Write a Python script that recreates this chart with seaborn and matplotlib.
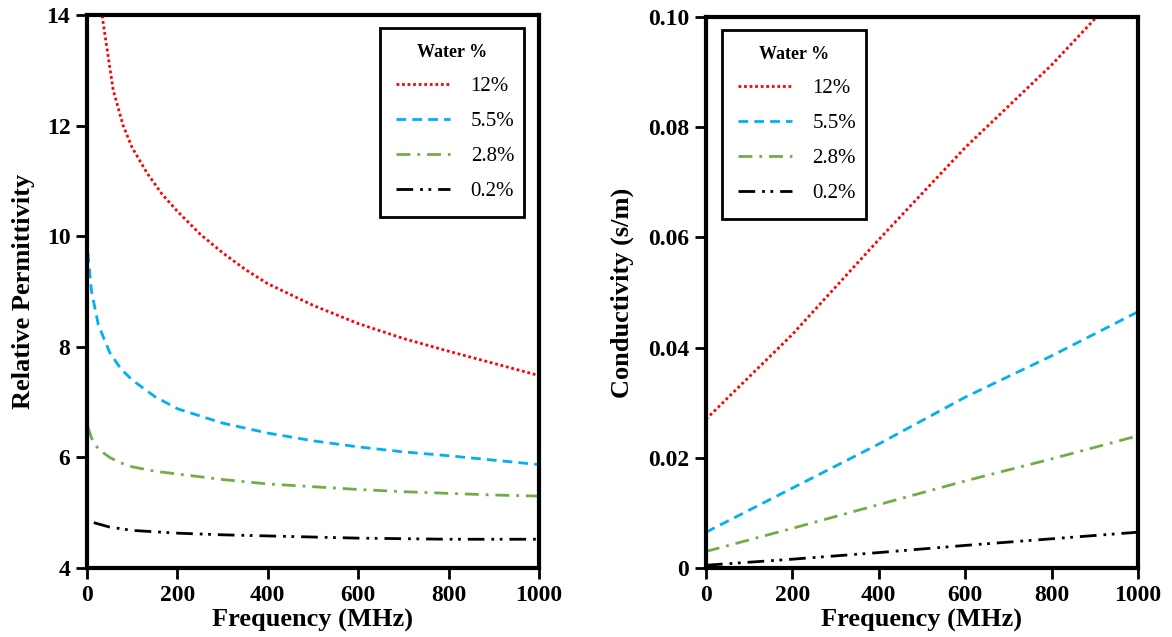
import numpy as np
import pandas as pd
import matplotlib
matplotlib.use("Agg")
import matplotlib.pyplot as plt
import seaborn as sns

sns.set_style("white")
plt.rcParams['font.family'] = ['Liberation Serif', 'DejaVu Serif']
plt.rcParams['text.color'] = 'black'
plt.rcParams['axes.labelcolor'] = 'black'
plt.rcParams['xtick.color'] = 'black'
plt.rcParams['ytick.color'] = 'black'

labels = ["12%", "5.5%", "2.8%", "0.2%"]
colors = ["#ff0000", "#00b0f0", "#70ad47", "#000000"]
dashes = [(1, 1), (3.5, 2.2), (5, 2.5, 1, 2.5), (6, 2.5, 1, 2, 1, 2.5)]

# Relative permittivity
f_red = [20, 35, 58, 80, 100, 133, 166, 200, 250, 300, 350, 400, 500, 600, 700, 800, 900, 1000]
e_red = [15.0, 13.9, 12.64, 12.0, 11.6, 11.14, 10.76, 10.45, 10.04, 9.7, 9.4, 9.14, 8.75, 8.42, 8.15, 7.92, 7.7, 7.48]
f_blue = [2, 10, 25, 50, 75, 100, 150, 200, 300, 400, 500, 600, 700, 800, 900, 1000]
e_blue = [9.7, 9.0, 8.4, 7.9, 7.6, 7.4, 7.1, 6.88, 6.62, 6.44, 6.3, 6.19, 6.1, 6.03, 5.95, 5.87]
f_green = [2, 10, 25, 50, 75, 100, 150, 200, 300, 400, 500, 600, 700, 800, 900, 1000]
e_green = [6.55, 6.35, 6.15, 6.0, 5.9, 5.83, 5.75, 5.7, 5.6, 5.52, 5.47, 5.42, 5.38, 5.35, 5.32, 5.3]
f_black = [15, 50, 100, 200, 300, 400, 500, 600, 700, 800, 900, 1000]
e_black = [4.82, 4.74, 4.68, 4.63, 4.6, 4.58, 4.56, 4.54, 4.53, 4.52, 4.52, 4.52]

# Conductivity
f_cond = [0, 200, 400, 600, 800, 1000]
s_red = [0.027, 0.0424, 0.0596, 0.0763, 0.0913, 0.108]
s_blue = [0.0065, 0.0145, 0.0225, 0.031, 0.0385, 0.0465]
s_green = [0.003, 0.0072, 0.0115, 0.0158, 0.0198, 0.024]
s_black = [0.0005, 0.0016, 0.0028, 0.0041, 0.0053, 0.0065]

perm = [(f_red, e_red), (f_blue, e_blue), (f_green, e_green), (f_black, e_black)]
cond = [(f_cond, s_red), (f_cond, s_blue), (f_cond, s_green), (f_cond, s_black)]

fig = plt.figure(figsize=(11.72, 6.37), dpi=100)
W, H = 1172, 637
ax1 = fig.add_axes([87 / W, (H - 568) / H, 452 / W, 553 / H])
ax2 = fig.add_axes([706 / W, (H - 568) / H, 432 / W, 551 / H])

for ax, data in ((ax1, perm), (ax2, cond)):
    for (x, y), lab, c, d in zip(data, labels, colors, dashes):
        sns.lineplot(x=x, y=y, ax=ax, color=c, label=lab, linewidth=2)
        ax.lines[-1].set_dashes(d)
    ax.set_xlim(0, 1000)
    ax.set_xticks([0, 200, 400, 600, 800, 1000])
    ax.set_xlabel("Frequency (MHz)", fontsize=19, fontweight='bold', labelpad=2)
    for s in ax.spines.values():
        s.set_linewidth(3)
        s.set_color('black')
    ax.tick_params(axis='both', direction='out', length=8, width=2, labelsize=17, pad=4,
                   bottom=True, left=True)

ax1.set_ylim(4, 14)
ax1.set_yticks([4, 6, 8, 10, 12, 14])
ax1.set_ylabel("Relative Permittivity", fontsize=19, fontweight='bold', labelpad=8)
ax2.set_ylim(0, 0.1)
ax2.set_yticks([0, 0.02, 0.04, 0.06, 0.08, 0.1])
ax2.set_yticklabels(["0", "0.02", "0.04", "0.06", "0.08", "0.10"])
ax2.set_ylabel("Conductivity (s/m)", fontsize=19, fontweight='bold', labelpad=10)
for t in ax1.get_yticklabels() + ax2.get_yticklabels() + ax1.get_xticklabels() + ax2.get_xticklabels():
    t.set_fontweight('bold')
    t.set_fontsize(17)

def make_legend(ax, x0, y0, x1, y1):
    inv = ax.transAxes.inverted()
    (ax0, ay0) = inv.transform(fig.transFigure.transform((x0 / W, 1 - y1 / H)))
    (ax1_, ay1) = inv.transform(fig.transFigure.transform((x1 / W, 1 - y0 / H)))
    leg = ax.legend(title="Water %", loc='upper left',
                    bbox_to_anchor=(ax0, ay0, ax1_ - ax0, ay1 - ay0), mode='expand',
                    borderaxespad=0,
                    fontsize=15, title_fontproperties={'weight': 'bold', 'size': 13},
                    frameon=True, fancybox=False, edgecolor='black', framealpha=1,
                    handlelength=2.6, handletextpad=1.0, labelspacing=0.75, borderpad=0.75,
                    alignment='center')
    leg.get_frame().set_linewidth(2)
    leg.get_frame().set_edgecolor('black')
    for t in leg.get_texts():
        t.set_color('black')
    return leg

make_legend(ax1, 380, 28, 524, 213)
make_legend(ax2, 722, 30, 866, 213)

fig.savefig("out.png", dpi=100, facecolor='white')
